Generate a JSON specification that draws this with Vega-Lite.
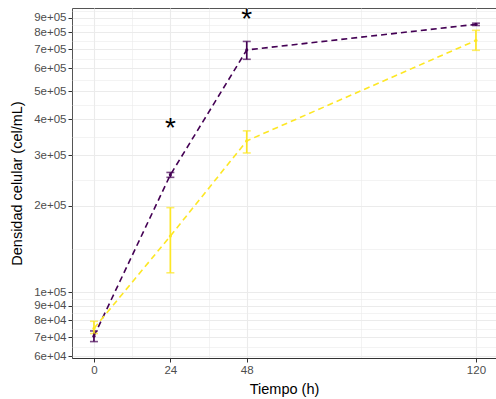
{
  "$schema": "https://vega.github.io/schema/vega-lite/v6.json",
  "width": 424,
  "height": 350,
  "autosize": "none",
  "padding": {"left": 72, "top": 8, "right": 0, "bottom": 41},
  "background": "white",
  "config": {
    "font": "Liberation Sans",
    "view": {"stroke": "#555555", "strokeWidth": 1},
    "axis": {
      "labelFont": "Liberation Sans",
      "titleFont": "Liberation Sans",
      "labelFontSize": 11.5,
      "labelColor": "#4D4D4D",
      "titleFontSize": 14.5,
      "titleFontWeight": "normal",
      "titleColor": "#000000",
      "tickColor": "#333333",
      "tickSize": 4,
      "tickWidth": 1,
      "gridColor": "#EBEBEB",
      "domain": false
    }
  },
  "datasets": {
    "crecimiento": [
      {"grupo": "A", "tiempo": 0, "media": 70500, "inf": 67500, "sup": 73500},
      {"grupo": "A", "tiempo": 24, "media": 256000, "inf": 251000, "sup": 261000},
      {"grupo": "A", "tiempo": 48, "media": 695000, "inf": 645000, "sup": 744000},
      {"grupo": "A", "tiempo": 120, "media": 853000, "inf": 845000, "sup": 861000},
      {"grupo": "B", "tiempo": 0, "media": 75000, "inf": 72000, "sup": 79400},
      {"grupo": "B", "tiempo": 24, "media": 157000, "inf": 117000, "sup": 197000},
      {"grupo": "B", "tiempo": 48, "media": 336000, "inf": 305000, "sup": 364000},
      {"grupo": "B", "tiempo": 120, "media": 750000, "inf": 693000, "sup": 813000}
    ],
    "signif": [
      {"tiempo": 24, "y": 388000, "etiqueta": "*"},
      {"tiempo": 48, "y": 925000, "etiqueta": "*"}
    ]
  },
  "layer": [
    {
      "data": {"name": "crecimiento"},
      "mark": {"type": "line", "strokeDash": [6, 4], "strokeWidth": 1.6},
      "encoding": {
        "x": {
          "field": "tiempo", "type": "quantitative",
          "title": "Tiempo (h)",
          "scale": {"domain": [-6.9, 126.3], "nice": false, "zero": false},
          "axis": {
            "title": "Tiempo (h)",
            "values": [0, 12, 24, 36, 48, 84, 120],
            "labelExpr": "indexof([0,24,48,120], datum.value) >= 0 ? datum.label : ''",
            "tickOpacity": {"condition": {"test": "indexof([0,24,48,120], datum.value) >= 0", "value": 1}, "value": 0},
            "gridWidth": {"condition": {"test": "indexof([0,24,48,120], datum.value) >= 0", "value": 1.1}, "value": 0.6},
            "labelPadding": 2,
            "titlePadding": 7,
            "domain": true,
            "domainColor": "#333333",
            "domainWidth": 1.2
          }
        },
        "y": {
          "field": "media", "type": "quantitative",
          "title": "Densidad celular (cel/mL)",
          "scale": {"type": "log", "domain": [59200, 972000], "nice": false, "zero": false},
          "axis": {
            "title": "Densidad celular (cel/mL)",
            "values": [60000, 64807, 70000, 74833, 80000, 84853, 90000, 94868, 100000, 141421, 200000, 244949, 300000, 346410, 400000, 447214, 500000, 547723, 600000, 648074, 700000, 748331, 800000, 848528, 900000, 948683],
            "labelExpr": "indexof([60000,70000,80000,90000,100000,200000,300000,400000,500000,600000,700000,800000,900000], datum.value) >= 0 ? replace(format(datum.value, '.0e'), 'e+', 'e+0') : ''",
            "tickOpacity": {"condition": {"test": "indexof([60000,70000,80000,90000,100000,200000,300000,400000,500000,600000,700000,800000,900000], datum.value) >= 0", "value": 1}, "value": 0},
            "gridWidth": {"condition": {"test": "indexof([60000,70000,80000,90000,100000,200000,300000,400000,500000,600000,700000,800000,900000], datum.value) >= 0", "value": 1.1}, "value": 0.6},
            "labelPadding": 2,
            "titlePadding": 9
          }
        },
        "color": {
          "field": "grupo", "type": "nominal",
          "scale": {"domain": ["A", "B"], "range": ["#440154", "#FDE725"]},
          "legend": null
        },
        "detail": {"field": "grupo"}
      }
    },
    {
      "data": {"name": "crecimiento"},
      "mark": {"type": "errorbar", "ticks": {"size": 8, "thickness": 1.6}, "thickness": 1.7},
      "encoding": {
        "x": {"field": "tiempo", "type": "quantitative", "title": "Tiempo (h)"},
        "y": {"field": "inf", "type": "quantitative", "title": "Densidad celular (cel/mL)"},
        "y2": {"field": "sup"},
        "color": {"field": "grupo", "type": "nominal", "legend": null}
      }
    },
    {
      "data": {"name": "crecimiento"},
      "mark": {"type": "point", "filled": true, "size": 10, "opacity": 1},
      "encoding": {
        "x": {"field": "tiempo", "type": "quantitative", "title": "Tiempo (h)"},
        "y": {"field": "media", "type": "quantitative", "title": "Densidad celular (cel/mL)"},
        "color": {"field": "grupo", "type": "nominal", "legend": null}
      }
    },
    {
      "data": {"name": "signif"},
      "mark": {"type": "text", "fontSize": 28, "baseline": "middle", "align": "center", "dy": 6, "color": "#000000", "font": "Liberation Sans"},
      "encoding": {
        "x": {"field": "tiempo", "type": "quantitative", "title": "Tiempo (h)"},
        "y": {"field": "y", "type": "quantitative", "title": "Densidad celular (cel/mL)"},
        "text": {"field": "etiqueta"}
      }
    }
  ]
}
